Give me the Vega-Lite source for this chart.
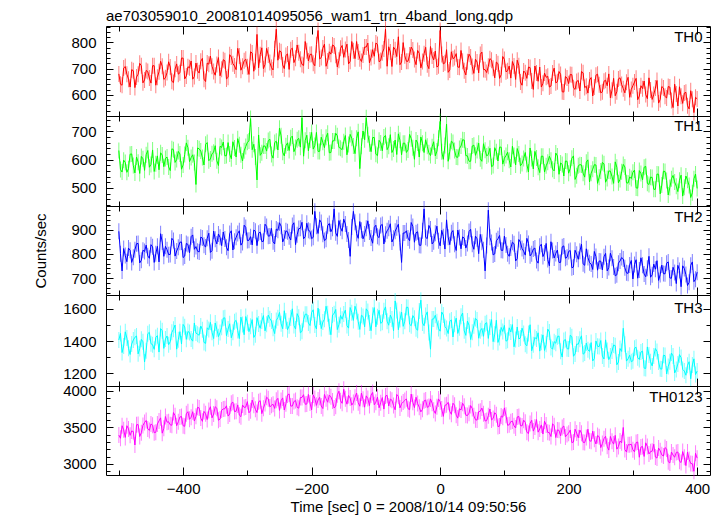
{
"$schema": "https://vega.github.io/schema/vega-lite/v6.json",
"background": "white",
"padding": {"left": 33, "top": 8, "right": 8, "bottom": 0},
"title": {"text": "ae703059010_20081014095056_wam1_trn_4band_long.qdp", "anchor": "start", "frame": "group", "fontSize": 15, "fontWeight": "normal", "font": "Liberation Sans", "color": "black", "offset": -3},
"spacing": 0,
"bounds": "flush",
"config": {
  "view": {"stroke": "black", "strokeWidth": 1},
  "axis": {"labelFont": "Liberation Sans", "labelFontSize": 15, "labelColor": "black", "titleFont": "Liberation Sans", "titleFontSize": 15, "titleFontWeight": "normal", "titleColor": "black", "tickColor": "black", "tickWidth": 1, "domain": false, "grid": false},
  "title": {"font": "Liberation Sans", "fontSize": 15, "fontWeight": "normal", "color": "black"}
},
"data": {"values": [
{"t":-500,"a":680,"b":632,"c":893,"d":1407,"e":3396},
{"t":-495,"a":637,"b":556,"c":730,"d":1329,"e":3524},
{"t":-490,"a":708,"b":590,"c":793,"d":1458,"e":3364},
{"t":-485,"a":660,"b":568,"c":824,"d":1356,"e":3480},
{"t":-480,"a":696,"b":620,"c":765,"d":1382,"e":3452},
{"t":-475,"a":628,"b":553,"c":817,"d":1424,"e":3260},
{"t":-470,"a":679,"b":591,"c":843,"d":1321,"e":3540},
{"t":-465,"a":711,"b":611,"c":774,"d":1411,"e":3428},
{"t":-460,"a":657,"b":562,"c":810,"d":1270,"e":3568},
{"t":-455,"a":689,"b":632,"c":792,"d":1446,"e":3480},
{"t":-450,"a":645,"b":583,"c":838,"d":1384,"e":3548},
{"t":-445,"a":711,"b":558,"c":765,"d":1349,"e":3428},
{"t":-440,"a":667,"b":613,"c":831,"d":1434,"e":3548},
{"t":-435,"a":728,"b":624,"c":883,"d":1478,"e":3632},
{"t":-430,"a":659,"b":575,"c":790,"d":1355,"e":3488},
{"t":-425,"a":685,"b":609,"c":817,"d":1432,"e":3572},
{"t":-420,"a":706,"b":561,"c":798,"d":1397,"e":3536},
{"t":-415,"a":647,"b":635,"c":855,"d":1474,"e":3704},
{"t":-410,"a":718,"b":600,"c":812,"d":1350,"e":3524},
{"t":-405,"a":684,"b":620,"c":848,"d":1459,"e":3644},
{"t":-400,"a":740,"b":581,"c":785,"d":1504,"e":3524},
{"t":-395,"a":672,"b":659,"c":843,"d":1411,"e":3688},
{"t":-390,"a":703,"b":593,"c":805,"d":1453,"e":3612},
{"t":-385,"a":660,"b":617,"c":878,"d":1400,"e":3716},
{"t":-380,"a":721,"b":512,"c":830,"d":1450,"e":3652},
{"t":-375,"a":683,"b":638,"c":808,"d":1437,"e":3768},
{"t":-370,"a":739,"b":607,"c":865,"d":1471,"e":3584},
{"t":-365,"a":651,"b":654,"c":828,"d":1386,"e":3688},
{"t":-360,"a":717,"b":596,"c":885,"d":1472,"e":3732},
{"t":-355,"a":709,"b":621,"c":813,"d":1455,"e":3632},
{"t":-350,"a":675,"b":649,"c":860,"d":1513,"e":3784},
{"t":-345,"a":742,"b":579,"c":882,"d":1428,"e":3599},
{"t":-340,"a":698,"b":643,"c":834,"d":1486,"e":3738},
{"t":-335,"a":730,"b":613,"c":861,"d":1545,"e":3757},
{"t":-330,"a":667,"b":660,"c":813,"d":1475,"e":3656},
{"t":-325,"a":744,"b":603,"c":895,"d":1421,"e":3831},
{"t":-320,"a":710,"b":641,"c":852,"d":1520,"e":3718},
{"t":-315,"a":777,"b":674,"c":884,"d":1466,"e":3809},
{"t":-310,"a":694,"b":617,"c":836,"d":1549,"e":3648},
{"t":-305,"a":730,"b":631,"c":918,"d":1440,"e":3775},
{"t":-300,"a":707,"b":661,"c":855,"d":1514,"e":3854},
{"t":-295,"a":764,"b":745,"c":871,"d":1493,"e":3728},
{"t":-290,"a":690,"b":654,"c":898,"d":1423,"e":3806},
{"t":-285,"a":830,"b":528,"c":834,"d":1546,"e":3704},
{"t":-280,"a":753,"b":615,"c":890,"d":1480,"e":3866},
{"t":-275,"a":700,"b":648,"c":852,"d":1559,"e":3764},
{"t":-270,"a":777,"b":630,"c":913,"d":1505,"e":3914},
{"t":-265,"a":723,"b":672,"c":874,"d":1540,"e":3782},
{"t":-260,"a":695,"b":605,"c":850,"d":1480,"e":3818},
{"t":-255,"a":850,"b":665,"c":902,"d":1529,"e":3872},
{"t":-250,"a":768,"b":711,"c":928,"d":1579,"e":3734},
{"t":-245,"a":714,"b":626,"c":849,"d":1477,"e":3905},
{"t":-240,"a":750,"b":649,"c":895,"d":1526,"e":3824},
{"t":-235,"a":697,"b":632,"c":871,"d":1496,"e":3959},
{"t":-230,"a":778,"b":683,"c":917,"d":1601,"e":3794},
{"t":-225,"a":739,"b":643,"c":838,"d":1475,"e":3869},
{"t":-220,"a":760,"b":675,"c":904,"d":1548,"e":3764},
{"t":-215,"a":716,"b":748,"c":930,"d":1461,"e":3911},
{"t":-210,"a":803,"b":668,"c":871,"d":1567,"e":3818},
{"t":-205,"a":729,"b":631,"c":897,"d":1513,"e":3953},
{"t":-200,"a":755,"b":696,"c":863,"d":1578,"e":3740},
{"t":-195,"a":711,"b":650,"c":975,"d":1500,"e":3898},
{"t":-190,"a":845,"b":629,"c":884,"d":1605,"e":3876},
{"t":-185,"a":742,"b":679,"c":929,"d":1478,"e":3794},
{"t":-180,"a":793,"b":642,"c":855,"d":1536,"e":3952},
{"t":-175,"a":729,"b":693,"c":916,"d":1570,"e":3846},
{"t":-170,"a":755,"b":625,"c":891,"d":1440,"e":3920},
{"t":-165,"a":786,"b":666,"c":985,"d":1571,"e":3766},
{"t":-160,"a":706,"b":684,"c":872,"d":1472,"e":3948},
{"t":-155,"a":777,"b":640,"c":908,"d":1560,"e":3866},
{"t":-150,"a":743,"b":663,"c":943,"d":1569,"e":4024},
{"t":-145,"a":793,"b":617,"c":882,"d":1497,"e":3819},
{"t":-140,"a":728,"b":689,"c":790,"d":1609,"e":3902},
{"t":-135,"a":768,"b":648,"c":975,"d":1529,"e":3841},
{"t":-130,"a":803,"b":675,"c":884,"d":1585,"e":3972},
{"t":-125,"a":738,"b":568,"c":933,"d":1473,"e":3791},
{"t":-120,"a":752,"b":701,"c":862,"d":1553,"e":3886},
{"t":-115,"a":782,"b":748,"c":906,"d":1601,"e":3933},
{"t":-110,"a":722,"b":656,"c":890,"d":1513,"e":3800},
{"t":-105,"a":772,"b":678,"c":844,"d":1561,"e":3979},
{"t":-100,"a":797,"b":619,"c":918,"d":1489,"e":3846},
{"t":-95,"a":726,"b":668,"c":867,"d":1592,"e":3770},
{"t":-90,"a":760,"b":631,"c":921,"d":1518,"e":3910},
{"t":-85,"a":850,"b":685,"c":881,"d":1613,"e":3930},
{"t":-80,"a":783,"b":647,"c":905,"d":1499,"e":3794},
{"t":-75,"a":708,"b":625,"c":849,"d":1538,"e":3874},
{"t":-70,"a":772,"b":669,"c":893,"d":1650,"e":3742},
{"t":-65,"a":821,"b":691,"c":922,"d":1471,"e":3926},
{"t":-60,"a":725,"b":617,"c":765,"d":1581,"e":3826},
{"t":-55,"a":749,"b":658,"c":886,"d":1524,"e":3870},
{"t":-50,"a":728,"b":634,"c":865,"d":1610,"e":3758},
{"t":-45,"a":782,"b":674,"c":929,"d":1496,"e":3957},
{"t":-40,"a":735,"b":601,"c":848,"d":1542,"e":3772},
{"t":-35,"a":769,"b":659,"c":891,"d":1468,"e":3827},
{"t":-30,"a":703,"b":680,"c":835,"d":1655,"e":3714},
{"t":-25,"a":757,"b":625,"c":985,"d":1496,"e":3865},
{"t":-20,"a":715,"b":647,"c":863,"d":1582,"e":3776},
{"t":-15,"a":784,"b":614,"c":902,"d":1350,"e":3891},
{"t":-10,"a":733,"b":663,"c":850,"d":1538,"e":3735},
{"t":-5,"a":706,"b":630,"c":914,"d":1520,"e":3785},
{"t":0,"a":845,"b":735,"c":833,"d":1462,"e":3852},
{"t":5,"a":718,"b":601,"c":871,"d":1563,"e":3652},
{"t":10,"a":772,"b":725,"c":940,"d":1478,"e":3812},
{"t":15,"a":695,"b":629,"c":838,"d":1523,"e":3720},
{"t":20,"a":738,"b":660,"c":896,"d":1426,"e":3832},
{"t":25,"a":757,"b":609,"c":814,"d":1543,"e":3668},
{"t":30,"a":705,"b":639,"c":867,"d":1484,"e":3756},
{"t":35,"a":728,"b":670,"c":870,"d":1575,"e":3832},
{"t":40,"a":676,"b":614,"c":824,"d":1436,"e":3668},
{"t":45,"a":755,"b":594,"c":892,"d":1499,"e":3696},
{"t":50,"a":708,"b":648,"c":840,"d":1456,"e":3760},
{"t":55,"a":736,"b":615,"c":873,"d":1541,"e":3606},
{"t":60,"a":684,"b":658,"c":801,"d":1418,"e":3716},
{"t":65,"a":763,"b":594,"c":848,"d":1479,"e":3766},
{"t":70,"a":696,"b":633,"c":730,"d":1508,"e":3588},
{"t":75,"a":709,"b":618,"c":980,"d":1417,"e":3662},
{"t":80,"a":732,"b":575,"c":847,"d":1534,"e":3604},
{"t":85,"a":665,"b":642,"c":800,"d":1443,"e":3702},
{"t":90,"a":719,"b":595,"c":862,"d":1392,"e":3512},
{"t":95,"a":677,"b":644,"c":815,"d":1485,"e":3658},
{"t":100,"a":735,"b":605,"c":873,"d":1498,"e":3768},
{"t":105,"a":692,"b":626,"c":801,"d":1406,"e":3530},
{"t":110,"a":664,"b":574,"c":824,"d":1457,"e":3580},
{"t":115,"a":710,"b":614,"c":842,"d":1365,"e":3522},
{"t":120,"a":732,"b":639,"c":780,"d":1488,"e":3644},
{"t":125,"a":649,"b":578,"c":848,"d":1420,"e":3526},
{"t":130,"a":691,"b":604,"c":811,"d":1447,"e":3600},
{"t":135,"a":663,"b":583,"c":864,"d":1371,"e":3434},
{"t":140,"a":704,"b":641,"c":792,"d":1502,"e":3556},
{"t":145,"a":621,"b":567,"c":820,"d":1378,"e":3450},
{"t":150,"a":683,"b":606,"c":773,"d":1413,"e":3608},
{"t":155,"a":706,"b":554,"c":831,"d":1338,"e":3479},
{"t":160,"a":644,"b":612,"c":789,"d":1439,"e":3410},
{"t":165,"a":667,"b":578,"c":843,"d":1380,"e":3533},
{"t":170,"a":630,"b":612,"c":751,"d":1457,"e":3428},
{"t":175,"a":683,"b":566,"c":814,"d":1350,"e":3551},
{"t":180,"a":646,"b":623,"c":802,"d":1387,"e":3362},
{"t":185,"a":689,"b":548,"c":765,"d":1432,"e":3461},
{"t":190,"a":612,"b":583,"c":829,"d":1301,"e":3500},
{"t":195,"a":670,"b":595,"c":782,"d":1410,"e":3371},
{"t":200,"a":643,"b":552,"c":810,"d":1351,"e":3422},
{"t":205,"a":677,"b":605,"c":743,"d":1428,"e":3293},
{"t":210,"a":621,"b":530,"c":815,"d":1320,"e":3476},
{"t":215,"a":655,"b":578,"c":778,"d":1381,"e":3359},
{"t":220,"a":689,"b":581,"c":840,"d":1433,"e":3422},
{"t":225,"a":628,"b":538,"c":753,"d":1326,"e":3293},
{"t":230,"a":607,"b":599,"c":785,"d":1346,"e":3476},
{"t":235,"a":666,"b":552,"c":758,"d":1391,"e":3311},
{"t":240,"a":630,"b":582,"c":810,"d":1291,"e":3338},
{"t":245,"a":679,"b":516,"c":733,"d":1368,"e":3389},
{"t":250,"a":608,"b":560,"c":770,"d":1404,"e":3224},
{"t":255,"a":652,"b":585,"c":788,"d":1289,"e":3347},
{"t":260,"a":635,"b":533,"c":730,"d":1342,"e":3242},
{"t":265,"a":589,"b":559,"c":803,"d":1307,"e":3377},
{"t":270,"a":663,"b":516,"c":746,"d":1376,"e":3272},
{"t":275,"a":612,"b":573,"c":714,"d":1253,"e":3203},
{"t":280,"a":665,"b":530,"c":771,"d":1354,"e":3314},
{"t":285,"a":624,"b":583,"c":779,"d":1480,"e":3500},
{"t":290,"a":648,"b":518,"c":722,"d":1276,"e":3164},
{"t":295,"a":591,"b":539,"c":754,"d":1313,"e":3263},
{"t":300,"a":635,"b":555,"c":697,"d":1278,"e":3194},
{"t":305,"a":663,"b":500,"c":776,"d":1362,"e":3293},
{"t":310,"a":596,"b":561,"c":734,"d":1286,"e":3092},
{"t":315,"a":624,"b":528,"c":753,"d":1338,"e":3239},
{"t":320,"a":602,"b":576,"c":706,"d":1230,"e":3290},
{"t":325,"a":665,"b":512,"c":790,"d":1314,"e":3137},
{"t":330,"a":583,"b":537,"c":714,"d":1246,"e":3176},
{"t":335,"a":626,"b":495,"c":737,"d":1354,"e":3095},
{"t":340,"a":569,"b":548,"c":691,"d":1270,"e":3218},
{"t":345,"a":632,"b":510,"c":754,"d":1226,"e":3125},
{"t":350,"a":595,"b":558,"c":718,"d":1310,"e":3224},
{"t":355,"a":632,"b":475,"c":767,"d":1242,"e":3032},
{"t":360,"a":579,"b":532,"c":700,"d":1326,"e":3164},
{"t":365,"a":641,"b":521,"c":724,"d":1202,"e":3092},
{"t":370,"a":558,"b":487,"c":753,"d":1258,"e":3164},
{"t":375,"a":595,"b":545,"c":665,"d":1298,"e":3020},
{"t":380,"a":607,"b":502,"c":740,"d":1214,"e":3092},
{"t":385,"a":559,"b":527,"c":670,"d":1250,"e":3164},
{"t":390,"a":616,"b":466,"c":753,"d":1166,"e":3008},
{"t":395,"a":533,"b":532,"c":686,"d":1290,"e":2900},
{"t":400,"a":585,"b":498,"c":725,"d":1214,"e":3080},
{"t":-497.5,"a":641,"b":565,"c":801,"d":1448,"e":3352},
{"t":-492.5,"a":702,"b":598,"c":822,"d":1370,"e":3468},
{"t":-487.5,"a":679,"b":555,"c":768,"d":1419,"e":3524},
{"t":-482.5,"a":630,"b":619,"c":815,"d":1317,"e":3392},
{"t":-477.5,"a":692,"b":579,"c":786,"d":1407,"e":3444},
{"t":-472.5,"a":668,"b":609,"c":842,"d":1432,"e":3536},
{"t":-467.5,"a":720,"b":551,"c":763,"d":1354,"e":3376},
{"t":-462.5,"a":646,"b":603,"c":815,"d":1396,"e":3528},
{"t":-457.5,"a":693,"b":617,"c":836,"d":1341,"e":3596},
{"t":-452.5,"a":664,"b":573,"c":782,"d":1455,"e":3460},
{"t":-447.5,"a":711,"b":634,"c":829,"d":1378,"e":3530},
{"t":-442.5,"a":637,"b":585,"c":801,"d":1423,"e":3434},
{"t":-437.5,"a":688,"b":564,"c":767,"d":1332,"e":3590},
{"t":-432.5,"a":709,"b":616,"c":849,"d":1465,"e":3422},
{"t":-427.5,"a":665,"b":604,"c":831,"d":1414,"e":3650},
{"t":-422.5,"a":726,"b":574,"c":797,"d":1378,"e":3578},
{"t":-417.5,"a":652,"b":638,"c":864,"d":1455,"e":3530},
{"t":-412.5,"a":698,"b":590,"c":791,"d":1500,"e":3662},
{"t":-407.5,"a":679,"b":629,"c":827,"d":1409,"e":3578},
{"t":-402.5,"a":740,"b":566,"c":849,"d":1382,"e":3650},
{"t":-397.5,"a":661,"b":618,"c":791,"d":1489,"e":3516},
{"t":-392.5,"a":707,"b":642,"c":839,"d":1460,"e":3716},
{"t":-387.5,"a":729,"b":607,"c":871,"d":1414,"e":3640},
{"t":-382.5,"a":670,"b":590,"c":819,"d":1513,"e":3588},
{"t":-377.5,"a":692,"b":641,"c":811,"d":1443,"e":3776},
{"t":-372.5,"a":728,"b":630,"c":869,"d":1494,"e":3628},
{"t":-367.5,"a":660,"b":581,"c":836,"d":1392,"e":3720},
{"t":-362.5,"a":721,"b":660,"c":864,"d":1483,"e":3608},
{"t":-357.5,"a":748,"b":602,"c":806,"d":1517,"e":3784},
{"t":-352.5,"a":689,"b":626,"c":894,"d":1416,"e":3684},
{"t":-347.5,"a":716,"b":596,"c":841,"d":1474,"e":3764},
{"t":-342.5,"a":673,"b":647,"c":868,"d":1453,"e":3615},
{"t":-337.5,"a":734,"b":662,"c":890,"d":1543,"e":3754},
{"t":-332.5,"a":661,"b":614,"c":827,"d":1434,"e":3797},
{"t":-327.5,"a":753,"b":620,"c":884,"d":1508,"e":3684},
{"t":-322.5,"a":719,"b":663,"c":816,"d":1455,"e":3847},
{"t":-317.5,"a":696,"b":609,"c":868,"d":1529,"e":3722},
{"t":-312.5,"a":748,"b":652,"c":895,"d":1416,"e":3669},
{"t":-307.5,"a":709,"b":595,"c":847,"d":1503,"e":3808},
{"t":-302.5,"a":736,"b":646,"c":909,"d":1553,"e":3779},
{"t":-297.5,"a":678,"b":666,"c":856,"d":1459,"e":3701},
{"t":-292.5,"a":759,"b":635,"c":837,"d":1534,"e":3875},
{"t":-287.5,"a":726,"b":609,"c":893,"d":1440,"e":3749},
{"t":-282.5,"a":703,"b":687,"c":885,"d":1507,"e":3851},
{"t":-277.5,"a":779,"b":624,"c":851,"d":1525,"e":3689},
{"t":-272.5,"a":716,"b":648,"c":922,"d":1464,"e":3827},
{"t":-267.5,"a":752,"b":667,"c":873,"d":1562,"e":3893},
{"t":-262.5,"a":704,"b":618,"c":905,"d":1525,"e":3803},
{"t":-257.5,"a":776,"b":660,"c":841,"d":1447,"e":3761},
{"t":-252.5,"a":732,"b":634,"c":897,"d":1546,"e":3899},
{"t":-247.5,"a":764,"b":684,"c":914,"d":1508,"e":3868},
{"t":-242.5,"a":700,"b":613,"c":865,"d":1589,"e":3739},
{"t":-237.5,"a":756,"b":659,"c":891,"d":1471,"e":3946},
{"t":-232.5,"a":772,"b":677,"c":857,"d":1544,"e":3793},
{"t":-227.5,"a":723,"b":628,"c":928,"d":1497,"e":3856},
{"t":-222.5,"a":790,"b":670,"c":879,"d":1571,"e":3776},
{"t":-217.5,"a":736,"b":644,"c":905,"d":1452,"e":3910},
{"t":-212.5,"a":712,"b":612,"c":862,"d":1534,"e":3949},
{"t":-207.5,"a":768,"b":686,"c":926,"d":1568,"e":3820},
{"t":-202.5,"a":754,"b":669,"c":893,"d":1497,"e":3835},
{"t":-197.5,"a":720,"b":637,"c":868,"d":1595,"e":3945},
{"t":-192.5,"a":791,"b":696,"c":914,"d":1476,"e":3803},
{"t":-187.5,"a":737,"b":629,"c":940,"d":1550,"e":3913},
{"t":-182.5,"a":778,"b":661,"c":881,"d":1519,"e":3759},
{"t":-177.5,"a":709,"b":679,"c":860,"d":1617,"e":3893},
{"t":-172.5,"a":764,"b":624,"c":925,"d":1490,"e":3943},
{"t":-167.5,"a":790,"b":666,"c":906,"d":1563,"e":3861},
{"t":-162.5,"a":751,"b":693,"c":887,"d":1597,"e":3791},
{"t":-157.5,"a":732,"b":643,"c":937,"d":1502,"e":3997},
{"t":-152.5,"a":788,"b":635,"c":893,"d":1536,"e":3831},
{"t":-147.5,"a":773,"b":685,"c":923,"d":1593,"e":3892},
{"t":-142.5,"a":718,"b":653,"c":857,"d":1481,"e":3939},
{"t":-137.5,"a":803,"b":675,"c":911,"d":1577,"e":3806},
{"t":-132.5,"a":738,"b":621,"c":930,"d":1617,"e":3913},
{"t":-127.5,"a":763,"b":698,"c":864,"d":1521,"e":3840},
{"t":-122.5,"a":727,"b":647,"c":897,"d":1561,"e":3971},
{"t":-117.5,"a":782,"b":670,"c":882,"d":1489,"e":3778},
{"t":-112.5,"a":797,"b":688,"c":936,"d":1585,"e":3897},
{"t":-107.5,"a":742,"b":628,"c":865,"d":1465,"e":3944},
{"t":-102.5,"a":747,"b":678,"c":909,"d":1609,"e":3811},
{"t":-97.5,"a":792,"b":614,"c":873,"d":1552,"e":3916},
{"t":-92.5,"a":731,"b":659,"c":917,"d":1511,"e":3840},
{"t":-87.5,"a":775,"b":680,"c":841,"d":1589,"e":3752},
{"t":-82.5,"a":709,"b":635,"c":895,"d":1524,"e":3940},
{"t":-77.5,"a":763,"b":688,"c":924,"d":1562,"e":3888},
{"t":-72.5,"a":782,"b":637,"c":864,"d":1465,"e":3800},
{"t":-67.5,"a":746,"b":618,"c":908,"d":1591,"e":3952},
{"t":-62.5,"a":715,"b":668,"c":847,"d":1534,"e":3768},
{"t":-57.5,"a":799,"b":658,"c":886,"d":1492,"e":3848},
{"t":-52.5,"a":728,"b":625,"c":895,"d":1611,"e":3892},
{"t":-47.5,"a":752,"b":689,"c":854,"d":1505,"e":3744},
{"t":-42.5,"a":771,"b":642,"c":913,"d":1559,"e":3847},
{"t":-37.5,"a":715,"b":669,"c":887,"d":1477,"e":3914},
{"t":-32.5,"a":758,"b":609,"c":836,"d":1587,"e":3777},
{"t":-27.5,"a":727,"b":658,"c":895,"d":1513,"e":3748},
{"t":-22.5,"a":781,"b":670,"c":868,"d":1559,"e":3875},
{"t":-17.5,"a":700,"b":624,"c":917,"d":1453,"e":3786},
{"t":-12.5,"a":748,"b":645,"c":841,"d":1537,"e":3833},
{"t":-7.5,"a":767,"b":613,"c":885,"d":1561,"e":3692},
{"t":-2.5,"a":711,"b":675,"c":854,"d":1479,"e":3891},
{"t":2.5,"a":754,"b":628,"c":897,"d":1581,"e":3752},
{"t":7.5,"a":722,"b":650,"c":820,"d":1490,"e":3804},
{"t":12.5,"a":686,"b":594,"c":869,"d":1447,"e":3844},
{"t":17.5,"a":764,"b":665,"c":887,"d":1532,"e":3680},
{"t":22.5,"a":742,"b":632,"c":840,"d":1505,"e":3804},
{"t":27.5,"a":706,"b":608,"c":898,"d":1448,"e":3628},
{"t":32.5,"a":769,"b":648,"c":821,"d":1555,"e":3740},
{"t":37.5,"a":692,"b":669,"c":865,"d":1464,"e":3792},
{"t":42.5,"a":726,"b":613,"c":843,"d":1525,"e":3664},
{"t":47.5,"a":744,"b":594,"c":901,"d":1410,"e":3800},
{"t":52.5,"a":682,"b":651,"c":819,"d":1495,"e":3659},
{"t":57.5,"a":725,"b":632,"c":862,"d":1532,"e":3601},
{"t":62.5,"a":754,"b":603,"c":880,"d":1465,"e":3723},
{"t":67.5,"a":697,"b":656,"c":817,"d":1430,"e":3689},
{"t":72.5,"a":685,"b":613,"c":835,"d":1515,"e":3595},
{"t":77.5,"a":738,"b":640,"c":868,"d":1488,"e":3753},
{"t":82.5,"a":701,"b":579,"c":796,"d":1397,"e":3623},
{"t":87.5,"a":725,"b":628,"c":854,"d":1530,"e":3675},
{"t":92.5,"a":663,"b":644,"c":876,"d":1423,"e":3519},
{"t":97.5,"a":746,"b":584,"c":814,"d":1460,"e":3641},
{"t":102.5,"a":688,"b":614,"c":837,"d":1400,"e":3667},
{"t":107.5,"a":710,"b":598,"c":790,"d":1483,"e":3537},
{"t":112.5,"a":727,"b":647,"c":848,"d":1503,"e":3587},
{"t":117.5,"a":659,"b":581,"c":771,"d":1410,"e":3493},
{"t":122.5,"a":711,"b":620,"c":859,"d":1414,"e":3651},
{"t":127.5,"a":637,"b":586,"c":822,"d":1481,"e":3521},
{"t":132.5,"a":684,"b":625,"c":795,"d":1381,"e":3571},
{"t":137.5,"a":706,"b":556,"c":843,"d":1448,"e":3417},
{"t":142.5,"a":653,"b":604,"c":801,"d":1340,"e":3599},
{"t":147.5,"a":710,"b":629,"c":824,"d":1423,"e":3505},
{"t":152.5,"a":652,"b":573,"c":762,"d":1452,"e":3436},
{"t":157.5,"a":630,"b":612,"c":840,"d":1393,"e":3535},
{"t":162.5,"a":683,"b":556,"c":804,"d":1342,"e":3586},
{"t":167.5,"a":671,"b":591,"c":777,"d":1475,"e":3433},
{"t":172.5,"a":634,"b":598,"c":850,"d":1360,"e":3376},
{"t":177.5,"a":702,"b":560,"c":783,"d":1397,"e":3523},
{"t":182.5,"a":650,"b":613,"c":816,"d":1428,"e":3466},
{"t":187.5,"a":678,"b":588,"c":765,"d":1337,"e":3385},
{"t":192.5,"a":611,"b":542,"c":833,"d":1404,"e":3520},
{"t":197.5,"a":664,"b":594,"c":786,"d":1353,"e":3403},
{"t":202.5,"a":678,"b":569,"c":814,"d":1437,"e":3466},
{"t":207.5,"a":627,"b":613,"c":746,"d":1306,"e":3301},
{"t":212.5,"a":651,"b":543,"c":799,"d":1382,"e":3424},
{"t":217.5,"a":615,"b":582,"c":811,"d":1411,"e":3464},
{"t":222.5,"a":684,"b":552,"c":759,"d":1319,"e":3297},
{"t":227.5,"a":633,"b":591,"c":821,"d":1388,"e":3364},
{"t":232.5,"a":657,"b":521,"c":764,"d":1336,"e":3319},
{"t":237.5,"a":596,"b":566,"c":736,"d":1277,"e":3450},
{"t":242.5,"a":675,"b":581,"c":789,"d":1401,"e":3274},
{"t":247.5,"a":639,"b":538,"c":771,"d":1366,"e":3373},
{"t":252.5,"a":612,"b":590,"c":734,"d":1307,"e":3280},
{"t":257.5,"a":656,"b":520,"c":802,"d":1408,"e":3379},
{"t":262.5,"a":680,"b":560,"c":744,"d":1285,"e":3190},
{"t":267.5,"a":618,"b":540,"c":782,"d":1338,"e":3311},
{"t":272.5,"a":597,"b":592,"c":710,"d":1372,"e":3392},
{"t":277.5,"a":661,"b":518,"c":762,"d":1270,"e":3239},
{"t":282.5,"a":640,"b":557,"c":785,"d":1336,"e":3290},
{"t":287.5,"a":608,"b":574,"c":743,"d":1381,"e":3197},
{"t":292.5,"a":667,"b":517,"c":720,"d":1290,"e":3264},
{"t":297.5,"a":621,"b":533,"c":773,"d":1272,"e":3271},
{"t":302.5,"a":649,"b":563,"c":756,"d":1356,"e":3166},
{"t":307.5,"a":582,"b":499,"c":700,"d":1296,"e":3301},
{"t":312.5,"a":635,"b":551,"c":784,"d":1332,"e":3232},
{"t":317.5,"a":653,"b":573,"c":717,"d":1232,"e":3103},
{"t":322.5,"a":586,"b":516,"c":741,"d":1364,"e":3238},
{"t":327.5,"a":619,"b":538,"c":704,"d":1272,"e":3169},
{"t":332.5,"a":602,"b":495,"c":758,"d":1308,"e":3270},
{"t":337.5,"a":655,"b":549,"c":772,"d":1336,"e":3081},
{"t":342.5,"a":583,"b":479,"c":715,"d":1228,"e":3180},
{"t":347.5,"a":626,"b":559,"c":719,"d":1312,"e":3109},
{"t":352.5,"a":588,"b":526,"c":762,"d":1196,"e":3206},
{"t":357.5,"a":630,"b":501,"c":701,"d":1272,"e":3014},
{"t":362.5,"a":552,"b":544,"c":745,"d":1308,"e":3122},
{"t":367.5,"a":604,"b":506,"c":678,"d":1224,"e":3158},
{"t":372.5,"a":631,"b":527,"c":732,"d":1316,"e":3038},
{"t":377.5,"a":568,"b":471,"c":751,"d":1224,"e":3170},
{"t":382.5,"a":610,"b":542,"c":715,"d":1188,"e":2978},
{"t":387.5,"a":547,"b":508,"c":683,"d":1272,"e":3062},
{"t":392.5,"a":584,"b":483,"c":767,"d":1252,"e":3002},
{"t":397.5,"a":591,"b":549,"c":696,"d":1192,"e":3146}
]},
"vconcat": [
{
  "width": 604, "height": 90,
  "title": {"text": "TH0", "anchor": "end", "orient": "top", "offset": -3, "baseline": "top", "dx": -8, "dy": 21},
  "layer": [
    {"mark": {"type": "tick", "orient": "vertical", "size": 16, "thickness": 1, "color": "#ff0000", "opacity": 0.5},
     "encoding": {
       "x": {"field": "t", "type": "quantitative", "scale": {"domain": [-520, 420], "nice": false, "zero": false},
             "axis": {"orient": "bottom", "values": [-500,-400,-300,-200,-100,0,100,200,300,400], "labels": false, "title": null, "tickSize": {"condition": {"test": "datum.value % 200 === 0", "value": -8}, "value": -5}}},
       "y": {"field": "a", "type": "quantitative", "scale": {"domain": [520, 862], "nice": false, "zero": false},
             "axis": {"orient": "left", "values": [540,560,580,600,620,640,660,680,700,720,740,760,780,800,820,840,860], "labelExpr": "datum.value % 100 === 0 ? datum.label : ''", "title": null, "labelPadding": 17, "tickSize": {"condition": {"test": "datum.value % 100 === 0", "value": -7}, "value": -4}}}
     }},
    {"mark": {"type": "line", "color": "#ff0000", "strokeWidth": 1},
     "encoding": {
       "x": {"field": "t", "type": "quantitative", "axis": {"orient": "top", "values": [-500,-400,-300,-200,-100,0,100,200,300,400], "labels": false, "title": null, "tickSize": {"condition": {"test": "datum.value % 200 === 0", "value": -8}, "value": -5}}},
       "y": {"field": "a", "type": "quantitative", "axis": {"orient": "right", "values": [540,560,580,600,620,640,660,680,700,720,740,760,780,800,820,840,860], "labels": false, "title": null, "tickSize": {"condition": {"test": "datum.value % 100 === 0", "value": -7}, "value": -4}}}
     }}
  ],
  "resolve": {"axis": {"x": "independent", "y": "independent"}}
},
{
  "width": 604, "height": 90,
  "title": {"text": "TH1", "anchor": "end", "orient": "top", "offset": -3, "baseline": "top", "dx": -8, "dy": 21},
  "layer": [
    {"mark": {"type": "tick", "orient": "vertical", "size": 16, "thickness": 1, "color": "#00ff00", "opacity": 0.5},
     "encoding": {
       "x": {"field": "t", "type": "quantitative", "scale": {"domain": [-520, 420], "nice": false, "zero": false},
             "axis": {"orient": "bottom", "values": [-500,-400,-300,-200,-100,0,100,200,300,400], "labels": false, "title": null, "tickSize": {"condition": {"test": "datum.value % 200 === 0", "value": -8}, "value": -5}}},
       "y": {"field": "b", "type": "quantitative", "scale": {"domain": [436, 754], "nice": false, "zero": false},
             "axis": {"orient": "left", "values": [440,460,480,500,520,540,560,580,600,620,640,660,680,700,720,740], "labelExpr": "datum.value % 100 === 0 ? datum.label : ''", "title": null, "labelPadding": 17, "tickSize": {"condition": {"test": "datum.value % 100 === 0", "value": -7}, "value": -4}}}
     }},
    {"mark": {"type": "line", "color": "#00ff00", "strokeWidth": 1},
     "encoding": {
       "x": {"field": "t", "type": "quantitative", "axis": {"orient": "top", "values": [-500,-400,-300,-200,-100,0,100,200,300,400], "labels": false, "title": null, "tickSize": {"condition": {"test": "datum.value % 200 === 0", "value": -8}, "value": -5}}},
       "y": {"field": "b", "type": "quantitative", "axis": {"orient": "right", "values": [440,460,480,500,520,540,560,580,600,620,640,660,680,700,720,740], "labels": false, "title": null, "tickSize": {"condition": {"test": "datum.value % 100 === 0", "value": -7}, "value": -4}}}
     }}
  ],
  "resolve": {"axis": {"x": "independent", "y": "independent"}}
},
{
  "width": 604, "height": 89,
  "title": {"text": "TH2", "anchor": "end", "orient": "top", "offset": -3, "baseline": "top", "dx": -8, "dy": 21},
  "layer": [
    {"mark": {"type": "tick", "orient": "vertical", "size": 16, "thickness": 1, "color": "#0000ff", "opacity": 0.5},
     "encoding": {
       "x": {"field": "t", "type": "quantitative", "scale": {"domain": [-520, 420], "nice": false, "zero": false},
             "axis": {"orient": "bottom", "values": [-500,-400,-300,-200,-100,0,100,200,300,400], "labels": false, "title": null, "tickSize": {"condition": {"test": "datum.value % 200 === 0", "value": -8}, "value": -5}}},
       "y": {"field": "c", "type": "quantitative", "scale": {"domain": [631, 997], "nice": false, "zero": false},
             "axis": {"orient": "left", "values": [640,660,680,700,720,740,760,780,800,820,840,860,880,900,920,940,960,980], "labelExpr": "datum.value % 100 === 0 ? datum.label : ''", "title": "Counts/sec", "titlePadding": 22, "labelPadding": 17, "tickSize": {"condition": {"test": "datum.value % 100 === 0", "value": -7}, "value": -4}}}
     }},
    {"mark": {"type": "line", "color": "#0000ff", "strokeWidth": 1},
     "encoding": {
       "x": {"field": "t", "type": "quantitative", "axis": {"orient": "top", "values": [-500,-400,-300,-200,-100,0,100,200,300,400], "labels": false, "title": null, "tickSize": {"condition": {"test": "datum.value % 200 === 0", "value": -8}, "value": -5}}},
       "y": {"field": "c", "type": "quantitative", "axis": {"orient": "right", "values": [640,660,680,700,720,740,760,780,800,820,840,860,880,900,920,940,960,980], "labels": false, "title": null, "tickSize": {"condition": {"test": "datum.value % 100 === 0", "value": -7}, "value": -4}}}
     }}
  ],
  "resolve": {"axis": {"x": "independent", "y": "independent"}}
},
{
  "width": 604, "height": 91,
  "title": {"text": "TH3", "anchor": "end", "orient": "top", "offset": -3, "baseline": "top", "dx": -8, "dy": 21},
  "layer": [
    {"mark": {"type": "tick", "orient": "vertical", "size": 16, "thickness": 1, "color": "#00ffff", "opacity": 0.5},
     "encoding": {
       "x": {"field": "t", "type": "quantitative", "scale": {"domain": [-520, 420], "nice": false, "zero": false},
             "axis": {"orient": "bottom", "values": [-500,-400,-300,-200,-100,0,100,200,300,400], "labels": false, "title": null, "tickSize": {"condition": {"test": "datum.value % 200 === 0", "value": -8}, "value": -5}}},
       "y": {"field": "d", "type": "quantitative", "scale": {"domain": [1121, 1687], "nice": false, "zero": false},
             "axis": {"orient": "left", "values": [1200,1300,1400,1500,1600], "labelExpr": "datum.value % 200 === 0 ? datum.label : ''", "format": "d", "title": null, "labelPadding": 17, "tickSize": {"condition": {"test": "datum.value % 200 === 0", "value": -7}, "value": -4}}}
     }},
    {"mark": {"type": "line", "color": "#00ffff", "strokeWidth": 1},
     "encoding": {
       "x": {"field": "t", "type": "quantitative", "axis": {"orient": "top", "values": [-500,-400,-300,-200,-100,0,100,200,300,400], "labels": false, "title": null, "tickSize": {"condition": {"test": "datum.value % 200 === 0", "value": -8}, "value": -5}}},
       "y": {"field": "d", "type": "quantitative", "axis": {"orient": "right", "values": [1200,1300,1400,1500,1600], "labels": false, "title": null, "tickSize": {"condition": {"test": "datum.value % 200 === 0", "value": -7}, "value": -4}}}
     }}
  ],
  "resolve": {"axis": {"x": "independent", "y": "independent"}}
},
{
  "width": 604, "height": 89,
  "title": {"text": "TH0123", "anchor": "end", "orient": "top", "offset": -3, "baseline": "top", "dx": -8, "dy": 21},
  "layer": [
    {"mark": {"type": "tick", "orient": "vertical", "size": 16, "thickness": 1, "color": "#ff00ff", "opacity": 0.5},
     "encoding": {
       "x": {"field": "t", "type": "quantitative", "scale": {"domain": [-520, 420], "nice": false, "zero": false},
             "axis": {"orient": "bottom", "values": [-500,-400,-300,-200,-100,0,100,200,300,400], "labelExpr": "datum.value % 200 === 0 ? datum.label : ''", "title": "Time [sec] 0 = 2008/10/14 09:50:56", "labelPadding": 14, "titlePadding": 3, "tickSize": {"condition": {"test": "datum.value % 200 === 0", "value": -8}, "value": -5}}},
       "y": {"field": "e", "type": "quantitative", "scale": {"domain": [2849, 4068], "nice": false, "zero": false},
             "axis": {"orient": "left", "values": [2900,3000,3100,3200,3300,3400,3500,3600,3700,3800,3900,4000], "labelExpr": "datum.value % 500 === 0 ? datum.label : ''", "format": "d", "title": null, "labelPadding": 17, "tickSize": {"condition": {"test": "datum.value % 500 === 0", "value": -7}, "value": -4}}}
     }},
    {"mark": {"type": "line", "color": "#ff00ff", "strokeWidth": 1},
     "encoding": {
       "x": {"field": "t", "type": "quantitative", "axis": {"orient": "top", "values": [-500,-400,-300,-200,-100,0,100,200,300,400], "labels": false, "title": null, "tickSize": {"condition": {"test": "datum.value % 200 === 0", "value": -8}, "value": -5}}},
       "y": {"field": "e", "type": "quantitative", "axis": {"orient": "right", "values": [2900,3000,3100,3200,3300,3400,3500,3600,3700,3800,3900,4000], "labels": false, "title": null, "tickSize": {"condition": {"test": "datum.value % 500 === 0", "value": -7}, "value": -4}}}
     }}
  ],
  "resolve": {"axis": {"x": "independent", "y": "independent"}}
}
]
}
